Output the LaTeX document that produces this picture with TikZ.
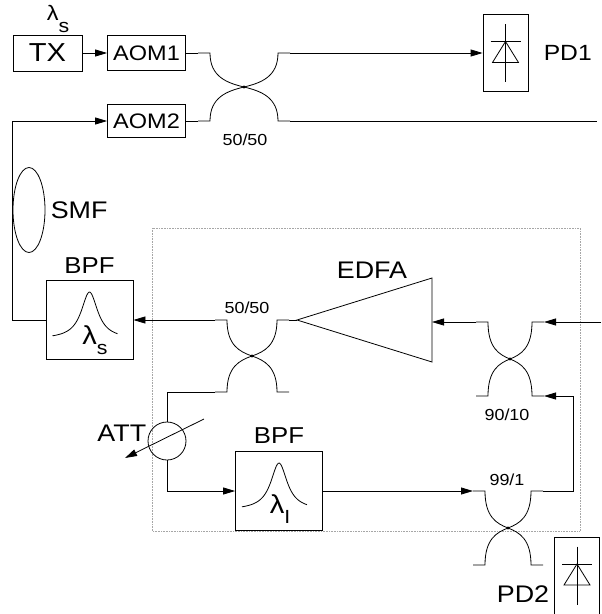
\documentclass[tikz,border=0pt]{standalone}
\usepackage{fontspec}
\setmainfont{Liberation Sans}[FakeStretch=1.12]
\usepackage{tikz}
\usetikzlibrary{positioning,arrows.meta,shapes.geometric}

% wavelength label with lowered index
\newcommand{\wavelen}[2][10pt]{λ\raisebox{-#1}{\fontsize{19}{19}\selectfont #2}}

% fibre coupler: name, centre x, centre y, half width, half height
\newcommand{\fibcoupler}[5]{%
  \coordinate (#1-c) at (#2,#3);
  \coordinate (#1-tl) at ({#2-#4-12},{#3-#5});
  \coordinate (#1-tr) at ({#2+#4+12},{#3-#5});
  \coordinate (#1-bl) at ({#2-#4-12},{#3+#5});
  \coordinate (#1-br) at ({#2+#4+12},{#3+#5});
  \draw (#1-tl) -- ({#2-#4},{#3-#5})
    .. controls ({#2-#4},{#3-0.3*#5}) and ({#2-0.5*#4},{#3-0.12*#5}) .. (#1-c)
    .. controls ({#2+0.5*#4},{#3-0.12*#5}) and ({#2+#4},{#3-0.3*#5}) .. ({#2+#4},{#3-#5})
    -- (#1-tr);
  \draw (#1-bl) -- ({#2-#4},{#3+#5})
    .. controls ({#2-#4},{#3+0.3*#5}) and ({#2-0.5*#4},{#3+0.12*#5}) .. (#1-c)
    .. controls ({#2+0.5*#4},{#3+0.12*#5}) and ({#2+#4},{#3+0.3*#5}) .. ({#2+#4},{#3+#5})
    -- (#1-br);
  \fill (#1-c) circle (1.6);
}

\tikzset{
  box/.style={draw, rectangle, inner sep=0pt},
  arr/.style={-{Triangle[length=12pt,width=7pt]}},
  lbl/.style={inner sep=1pt, font=\fontsize{24}{24}\selectfont},
  ratio/.style={inner sep=1pt, font=\fontsize{16}{16}\selectfont},
  bpfbox/.style={box, minimum width=87pt, minimum height=79pt, path picture={
    \begin{scope}[shift={(path picture bounding box.center)}]
      \draw plot[domain=-37:28, samples=60, smooth] (\x,{19-47/(1+\x*\x/100)});
    \end{scope}}},
  pdbox/.style={box, minimum width=45pt, minimum height=77pt, path picture={
    \begin{scope}[shift={(path picture bounding box.center)}]
      \draw (0,-29) -- (0,29);
      \draw (-15,-11.5) -- (15,-11.5);
      \draw (0,-11.5) -- (-13,9.5) -- (13,9.5) -- cycle;
    \end{scope}}}
}

\begin{document}
\begin{tikzpicture}[x=1pt, y=-1pt, line width=0.8pt]
    \useasboundingbox (0,0) rectangle (602,614);

    % transmitter and modulators
    \node[box, minimum width=69pt, minimum height=36pt, font=\fontsize{26}{26}\selectfont] (tx) at (47.5,53) {TX};
    \node[inner sep=0pt, font=\fontsize{21}{21}\selectfont] (tx-lam) at (58,19) {\wavelen[12pt]{s}};
    \node[box, minimum width=78pt, minimum height=35pt, font=\fontsize{21}{21}\selectfont] (aom1) at (146.5,53) {AOM1};
    \node[box, minimum width=78pt, minimum height=33pt, font=\fontsize{21}{21}\selectfont] (aom2) at (146.5,121) {AOM2};
    \draw[arr] (tx) -- (aom1);

    % output coupler
    \fibcoupler{cpl1}{244}{87}{34}{34}
    \node[ratio] (cpl1-ratio) at (245,140) {50/50};
    \draw (aom1.east) -- (cpl1-tl);
    \draw (aom2.east) -- (cpl1-bl);
    \coordinate (cpl1-out) at (597,121);
    \draw (cpl1-br) -- (cpl1-out);

    % PD1
    \node[pdbox] (pd1) at (505.5,53) {};
    \node[lbl, font=\fontsize{22}{22}\selectfont, right=14pt of pd1] (pd1-name) {PD1};
    \draw[arr] (cpl1-tr) -- (pd1.west);

    % fibre spool and signal filter
    \node[draw, ellipse, minimum width=32pt, minimum height=85pt, inner sep=0pt] (smf) at (29,210) {};
    \node[lbl, right=4pt of smf] (smf-name) {SMF};
    \node[bpfbox] (bpf1) at (89.5,320) {};
    \node[inner sep=0pt, font=\fontsize{26}{26}\selectfont] (bpf1-lam) at (95,340) {\wavelen{s}};
    \node[lbl, font=\fontsize{23}{23}\selectfont, above=5pt of bpf1] (bpf1-name) {BPF};
    \draw[arr] (bpf1.west) -| (smf.west) |- (aom2.west);

    % loop
    \draw[densely dotted, gray!70, line width=0.6pt] (152,228) rectangle (580,531);

    \fibcoupler{cpl2}{252}{356}{25}{36}
    \node[ratio] (cpl2-ratio) at (247,308) {50/50};
    \draw[arr] (cpl2-tl) -- (bpf1.east);

    % EDFA
    \coordinate (edfa-out) at (297,320);
    \coordinate (edfa-in) at (432,322);
    \draw (edfa-out) -- (432,278) -- (432,362) -- cycle;
    \node[lbl] (edfa-name) at (372,270) {EDFA};
    \draw (cpl2-tr) -- (edfa-out);

    \fibcoupler{cpl3}{510}{359}{22}{37}
    \node[ratio] (cpl3-ratio) at (507,415) {90/10};
    \draw[arr] (cpl3-tl) -- (edfa-in);
    \coordinate (loop-in) at (601,322);
    \draw[arr] (loop-in) -- (cpl3-tr);

    % attenuator and loop filter
    \node[draw, circle, minimum size=38pt, inner sep=0pt] (att) at (167,441) {};
    \node[lbl, anchor=base east] (att-name) at (att.west) {ATT};
    \draw[arr] ([shift={(37,-22)}]att.center) -- ([shift={(-42,17)}]att.center);
    \draw (cpl2-bl) -| (att.north);

    \node[bpfbox] (bpf2) at (279,491) {};
    \node[inner sep=0pt, font=\fontsize{26}{26}\selectfont] (bpf2-lam) at (280,509) {\wavelen{I}};
    \node[lbl, font=\fontsize{23}{23}\selectfont, above=6pt of bpf2] (bpf2-name) {BPF};
    \draw[arr] (att.south) |- (bpf2.west);

    \fibcoupler{cpl4}{508}{528}{23}{37}
    \node[ratio] (cpl4-ratio) at (507,480) {99/1};
    \draw[arr] (bpf2.east) -- (cpl4-tl);
    \coordinate (loop-ret) at (573,396);
    \draw[arr] (cpl4-tr) -| (loop-ret) -- (cpl3-br);

    % PD2
    \node[pdbox] (pd2) at (577,575.5) {};
    \node[lbl] (pd2-name) at (523,594) {PD2};
\end{tikzpicture}
\end{document}
